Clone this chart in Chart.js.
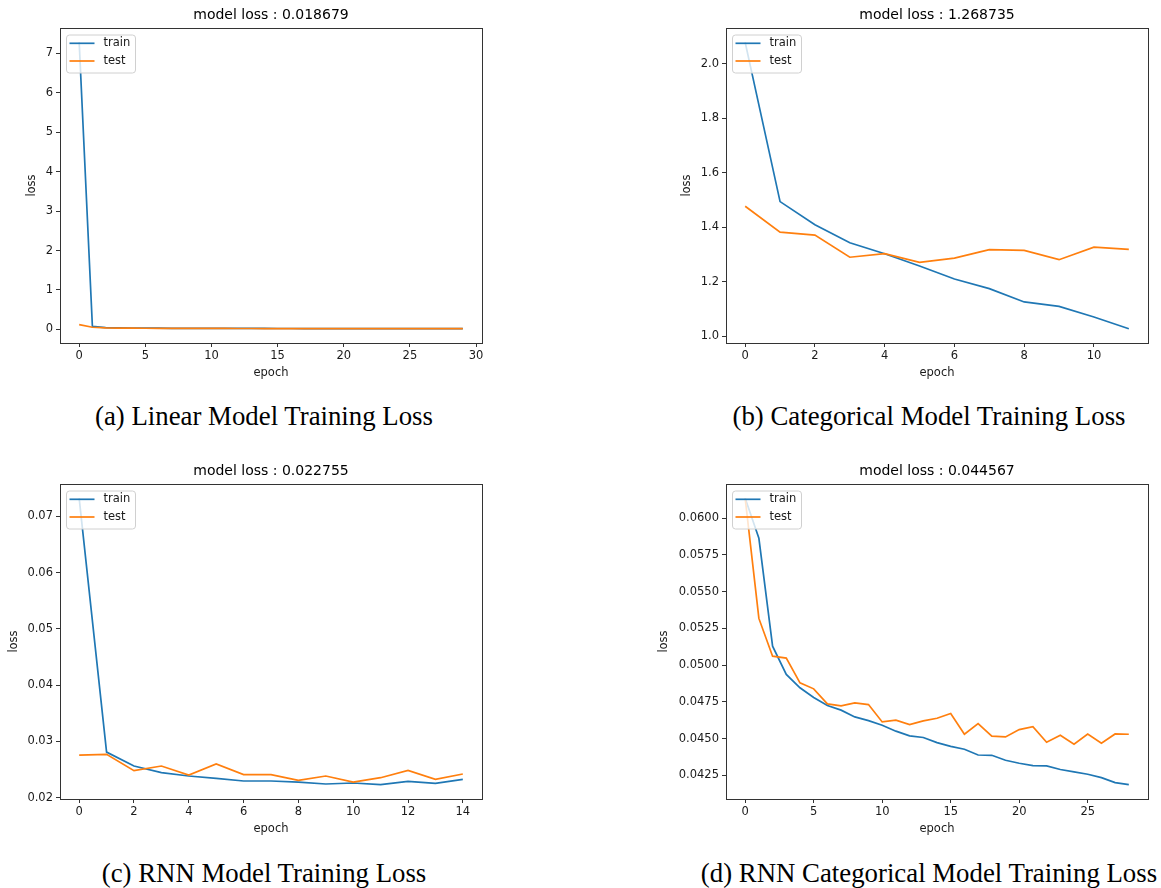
<!DOCTYPE html>
<html><head><meta charset="utf-8">
<script src="https://cdn.jsdelivr.net/npm/chart.js@4"></script>
<style>
html,body{margin:0;padding:0;background:#fff;overflow:hidden;width:1161px;height:888px;position:relative;}
canvas{position:absolute;}
.cap{position:absolute;font-family:"Liberation Serif","Times New Roman",serif;font-size:26.8px;color:#000;white-space:nowrap;transform:translate(-50%,-50%);line-height:1;}
</style></head><body>
<canvas id="ca" width="500" height="383" style="left:0px;top:0px"></canvas>
<canvas id="cb" width="521" height="383" style="left:640px;top:0px"></canvas>
<canvas id="cc" width="500" height="383" style="left:0px;top:456px"></canvas>
<canvas id="cd" width="521" height="383" style="left:640px;top:456px"></canvas>
<script>
// ---- data ----
const trainA = [7.28, 0.075, 0.045, 0.040, 0.035, 0.033, 0.031, 0.029, 0.028, 0.027, 0.026, 0.025, 0.025, 0.024, 0.024, 0.023, 0.023, 0.022, 0.022, 0.022, 0.021, 0.021, 0.021, 0.020, 0.020, 0.020, 0.020, 0.019, 0.019, 0.019];
const testA  = [0.12, 0.055, 0.040, 0.035, 0.032, 0.030, 0.028, 0.027, 0.026, 0.025, 0.024, 0.024, 0.023, 0.023, 0.022, 0.022, 0.021, 0.021, 0.021, 0.020, 0.020, 0.020, 0.020, 0.019, 0.019, 0.019, 0.019, 0.019, 0.019, 0.0187];
const trainB = [2.078, 1.494, 1.409, 1.343, 1.303, 1.258, 1.210, 1.175, 1.126, 1.110, 1.071, 1.028];
const testB  = [1.477, 1.382, 1.371, 1.290, 1.303, 1.271, 1.287, 1.318, 1.315, 1.281, 1.327, 1.319];
const trainC = [0.0732, 0.0281, 0.02563, 0.02444, 0.02385, 0.02344, 0.02296, 0.02296, 0.02278, 0.02243, 0.02261, 0.02231, 0.0229, 0.02255, 0.02326];
const testC  = [0.02758, 0.0277, 0.0248, 0.02563, 0.02403, 0.02598, 0.02409, 0.02409, 0.02308, 0.02385, 0.02278, 0.02355, 0.02486, 0.02326, 0.02421];
const trainD = [0.06134, 0.05862, 0.05128, 0.04936, 0.04845, 0.04779, 0.04724, 0.04693, 0.04647, 0.04622, 0.0459, 0.0455, 0.04518, 0.04507, 0.04472, 0.04447, 0.04427, 0.04388, 0.04386, 0.04352, 0.04332, 0.04316, 0.04314, 0.04289, 0.04273, 0.04257, 0.04234, 0.0420, 0.04186];
const testD  = [0.06134, 0.05317, 0.0506, 0.05047, 0.04879, 0.04838, 0.04736, 0.04722, 0.04743, 0.04731, 0.04613, 0.04625, 0.04595, 0.0462, 0.04638, 0.0467, 0.04529, 0.04602, 0.04516, 0.04511, 0.04561, 0.04581, 0.04475, 0.04522, 0.04461, 0.04531, 0.04468, 0.04531, 0.04529];
const xTicksA = [0, 5, 10, 15, 20, 25, 30];
const yTicksA = [0, 1, 2, 3, 4, 5, 6, 7];
const xTicksB = [0, 2, 4, 6, 8, 10];
const yTicksB = [1.0, 1.2, 1.4, 1.6, 1.8, 2.0];
const xTicksC = [0, 2, 4, 6, 8, 10, 12, 14];
const yTicksC = [0.02, 0.03, 0.04, 0.05, 0.06, 0.07];
const xTicksD = [0, 5, 10, 15, 20, 25];
const yTicksD = [0.0425, 0.0450, 0.0475, 0.0500, 0.0525, 0.0550, 0.0575, 0.0600];
const seriesNames = ['train', 'test'];
const titles = ['model loss : 0.018679', 'model loss : 1.268735', 'model loss : 0.022755', 'model loss : 0.044567'];
const captions = ['(a) Linear Model Training Loss', '(b) Categorical Model Training Loss', '(c) RNN Model Training Loss', '(d) RNN Categorical Model Training Loss'];
const xLabel = 'epoch';
const yLabel = 'loss';

// ---- drawing ----
const FAM = '"DejaVu Sans", sans-serif';
const INK = '#1a1a1a';
const COLORS = ['#1f77b4', '#ff7f0e'];

const framePlugin = {
  id: 'frameLegend',
  afterDatasetsDraw(chart) {
    const {ctx, chartArea: a} = chart;
    ctx.save();
    ctx.strokeStyle = '#333';
    ctx.lineWidth = 1;
    ctx.strokeRect(Math.round(a.left) + 0.5, Math.round(a.top) + 0.5, Math.round(a.right - a.left), Math.round(a.bottom - a.top));
    // legend box
    const bx = a.left + 6.5, by = a.top + 7, bw = 69, bh = 38, r = 3;
    ctx.beginPath();
    ctx.moveTo(bx + r, by);
    ctx.lineTo(bx + bw - r, by); ctx.quadraticCurveTo(bx + bw, by, bx + bw, by + r);
    ctx.lineTo(bx + bw, by + bh - r); ctx.quadraticCurveTo(bx + bw, by + bh, bx + bw - r, by + bh);
    ctx.lineTo(bx + r, by + bh); ctx.quadraticCurveTo(bx, by + bh, bx, by + bh - r);
    ctx.lineTo(bx, by + r); ctx.quadraticCurveTo(bx, by, bx + r, by);
    ctx.closePath();
    ctx.fillStyle = 'rgba(255,255,255,0.8)';
    ctx.fill();
    ctx.strokeStyle = '#d0d0d0';
    ctx.stroke();
    ctx.font = '11.5px ' + FAM;
    ctx.textBaseline = 'middle';
    ctx.textAlign = 'left';
    chart.data.datasets.forEach((ds, i) => {
      const y = by + 8.3 + i * 17.7;
      ctx.strokeStyle = ds.borderColor;
      ctx.lineWidth = 1.7;
      ctx.beginPath(); ctx.moveTo(bx + 3, y); ctx.lineTo(bx + 28, y); ctx.stroke();
      ctx.fillStyle = INK;
      ctx.fillText(ds.label, bx + 37, y);
    });
    ctx.restore();
  }
};

function build(id, o) {
  const n = o.train.length;
  const all = o.train.concat(o.test);
  const lo = Math.min(...all), hi = Math.max(...all), rg = hi - lo;
  const tickFont = {family: FAM, size: 11.5};
  const gridOpts = {drawOnChartArea: false, drawTicks: true, tickLength: 4, color: '#333', lineWidth: 1};
  new Chart(document.getElementById(id), {
    type: 'line',
    data: {
      datasets: [o.train, o.test].map((arr, k) => ({
        label: seriesNames[k],
        data: arr.map((v, i) => ({x: i, y: v})),
        borderColor: COLORS[k],
        backgroundColor: COLORS[k],
        borderWidth: 1.7,
        pointRadius: 0,
        tension: 0,
        fill: false,
        order: 1 - k
      }))
    },
    options: {
      responsive: false,
      animation: false,
      events: [],
      layout: {padding: {left: 0, right: o.padRight, top: 0, bottom: 0}},
      plugins: {
        legend: {display: false},
        tooltip: {enabled: false},
        title: {display: true, text: o.title, fullSize: false, color: '#000',
                font: {family: FAM, size: 14, weight: 'normal'}, padding: {top: 7.2, bottom: 4.0}}
      },
      scales: {
        x: {
          type: 'linear',
          min: -0.05 * (n - 1), max: 1.05 * (n - 1),
          afterBuildTicks: s => { s.ticks = o.xTicks.map(v => ({value: v})); },
          afterFit: s => { s.height = 40; },
          ticks: {font: tickFont, color: INK, padding: 2, maxRotation: 0, autoSkip: false},
          grid: gridOpts,
          border: {display: false},
          title: {display: true, text: xLabel, color: INK, font: tickFont, padding: {top: 0, bottom: 3.4}}
        },
        y: {
          type: 'linear',
          min: lo - 0.05 * rg, max: hi + 0.05 * rg,
          afterBuildTicks: s => { s.ticks = o.yTicks.map(v => ({value: v})); },
          afterFit: s => { s.width = o.yW; },
          ticks: {font: tickFont, color: INK, padding: 3, autoSkip: false, callback: v => v.toFixed(o.dec)},
          grid: gridOpts,
          border: {display: false},
          title: {display: true, text: yLabel, color: INK, font: tickFont, padding: {top: o.yTitlePad, bottom: 0}}
        }
      }
    },
    plugins: [framePlugin]
  });
}

build('ca', {train: trainA, test: testA, xTicks: xTicksA, yTicks: yTicksA, dec: 0, title: titles[0], yW: 60, yTitlePad: 25.6, padRight: 18});
build('cb', {train: trainB, test: testB, xTicks: xTicksB, yTicks: yTicksB, dec: 1, title: titles[1], yW: 86, yTitlePad: 39.8, padRight: 13});
build('cc', {train: trainC, test: testC, xTicks: xTicksC, yTicks: yTicksC, dec: 2, title: titles[2], yW: 60, yTitlePad: 7.1, padRight: 18});
build('cd', {train: trainD, test: testD, xTicks: xTicksD, yTicks: yTicksD, dec: 4, title: titles[3], yW: 86, yTitlePad: 17.1, padRight: 13});

const capPos = [[264, 416], [929, 416], [264, 872.5], [929, 872.5]];
captions.forEach((t, i) => {
  const d = document.createElement('div');
  d.className = 'cap';
  d.textContent = t;
  d.style.left = capPos[i][0] + 'px';
  d.style.top = capPos[i][1] + 'px';
  document.body.appendChild(d);
});
</script>
</body></html>
